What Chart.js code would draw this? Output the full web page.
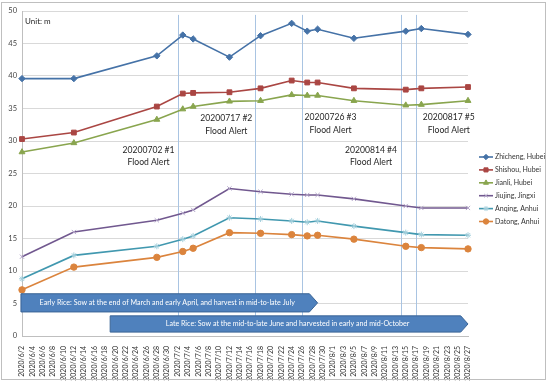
<!DOCTYPE html>
<html>
<head>
<meta charset="utf-8">
<script src="https://cdn.jsdelivr.net/npm/chart.js@4/dist/chart.umd.min.js"></script>
<style>
html, body { margin: 0; padding: 0; background: #fff; }
#wrap { width: 550px; height: 382px; }
</style>
</head>
<body>
<div id="wrap"><canvas id="c"></canvas></div>
<script>
// daily category labels 2020/6/2 .. 2020/8/27
const days = [];
for (let d = 2; d <= 30; d++) days.push('2020/6/' + d);
for (let d = 1; d <= 31; d++) days.push('2020/7/' + d);
for (let d = 1; d <= 27; d++) days.push('2020/8/' + d);

const sampleDates = ['2020/6/2', '2020/6/12', '2020/6/28', '2020/7/3', '2020/7/5', '2020/7/12', '2020/7/18',
    '2020/7/24', '2020/7/27', '2020/7/29', '2020/8/5', '2020/8/15', '2020/8/18', '2020/8/27'];

const zhicheng = [39.6, 39.6, 43.1, 46.3, 45.7, 42.9, 46.2, 48.1, 46.9, 47.2, 45.8, 46.9, 47.3, 46.4];
const shishou  = [30.3, 31.3, 35.3, 37.3, 37.4, 37.5, 38.1, 39.3, 39.0, 39.0, 38.1, 37.9, 38.1, 38.3];
const jianli   = [28.3, 29.7, 33.3, 34.9, 35.3, 36.1, 36.2, 37.1, 37.0, 37.0, 36.2, 35.5, 35.6, 36.2];
const jiujing  = [12.2, 16.0, 17.8, 18.9, 19.4, 22.7, 22.2, 21.8, 21.7, 21.7, 21.1, 20.0, 19.7, 19.7];
const anqing   = [8.8, 12.4, 13.8, 14.9, 15.4, 18.2, 18.0, 17.7, 17.5, 17.7, 16.9, 15.9, 15.6, 15.5];
const datong   = [7.1, 10.6, 12.1, 13.0, 13.5, 15.9, 15.8, 15.6, 15.4, 15.5, 14.9, 13.8, 13.6, 13.4];

const alertDates = ['2020/7/2', '2020/7/17', '2020/7/26', '2020/8/14', '2020/8/17'];
const alertNames = ['20200702 #1', '20200717 #2', '20200726 #3', '20200814 #4', '20200817 #5'];

const earlyRice = 'Early Rice: Sow at the end of March and early April, and harvest in mid-to-late July';
const lateRice = 'Late Rice: Sow at the mid-to-late June and harvested in early and mid-October';

const FONT = 'Lato, "Open Sans", sans-serif';

function series(label, values, color, style, radius, markColor) {
    return {
        label: label,
        data: sampleDates.map((d, i) => ({ x: d, y: values[i] })),
        borderColor: color,
        backgroundColor: color,
        borderWidth: 1.6,
        pointStyle: style,
        pointRadius: radius,
        pointBorderWidth: 1,
        pointBorderColor: markColor || color,
        tension: 0
    };
}

const overlay = {
    id: 'overlay',
    beforeDatasetsDraw(chart) {
        const { ctx, scales: { x, y } } = chart;
        ctx.save();
        ctx.strokeStyle = '#a9c4e2';
        ctx.lineWidth = 1;
        alertDates.forEach(d => {
            const px = Math.round(x.getPixelForValue(days.indexOf(d))) + 0.5;
            ctx.beginPath();
            ctx.moveTo(px, y.getPixelForValue(49.4));
            ctx.lineTo(px, y.getPixelForValue(3.1));
            ctx.stroke();
        });
        ctx.restore();
    },
    afterDraw(chart) {
        const { ctx, scales: { x, y } } = chart;
        ctx.save();

        // alert captions
        const spots = [[24.4, 28.6], [39.4, 33.5], [59.5, 33.6], [67.3, 28.6], [82.3, 33.6]];
        ctx.fillStyle = '#262626';
        ctx.font = '8.6px ' + FONT;
        ctx.textAlign = 'center';
        ctx.textBaseline = 'middle';
        spots.forEach((s, i) => {
            const px = x.getPixelForValue(s[0]);
            const py = y.getPixelForValue(s[1]);
            ctx.fillText(alertNames[i], px, py);
            ctx.fillText('Flood Alert', px, py + 12.5);
        });

        // rice season arrows
        function arrow(i0, i1, top, bottom, text, tx) {
            const x0 = x.getPixelForValue(i0);
            const x1 = x.getPixelForValue(i1);
            const y0 = y.getPixelForValue(top);
            const y1 = y.getPixelForValue(bottom);
            const h = y1 - y0;
            ctx.beginPath();
            ctx.moveTo(x0, y0);
            ctx.lineTo(x1 - h * 0.45, y0);
            ctx.lineTo(x1, y0 + h / 2);
            ctx.lineTo(x1 - h * 0.45, y1);
            ctx.lineTo(x0, y1);
            ctx.closePath();
            ctx.fillStyle = '#4f81bd';
            ctx.fill();
            ctx.strokeStyle = '#3a6496';
            ctx.lineWidth = 1;
            ctx.stroke();
            ctx.fillStyle = '#fff';
            ctx.font = '7.1px ' + FONT;
            ctx.fillText(text, x.getPixelForValue(tx), y0 + h / 2);
        }
        arrow(-0.2, 57, 6.5, 3.7, earlyRice, 28);
        arrow(17, 86, 3.1, 0.6, lateRice, 51.2);

        // unit
        ctx.fillStyle = '#262626';
        ctx.font = '8px ' + FONT;
        ctx.textAlign = 'left';
        ctx.fillText('Unit: m', x.left + 3, y.getPixelForValue(48.4));

        // legend
        chart.data.datasets.forEach((ds, i) => {
            const ly = 157 + i * 12.9;
            ctx.strokeStyle = ds.borderColor;
            ctx.lineWidth = 1.6;
            ctx.beginPath();
            ctx.moveTo(479, ly);
            ctx.lineTo(493, ly);
            ctx.stroke();
            ctx.fillStyle = ds.backgroundColor;
            ctx.strokeStyle = ds.pointBorderColor;
            ctx.lineWidth = 1;
            Chart.helpers.drawPoint(ctx, {
                pointStyle: ds.pointStyle, radius: ds.pointRadius - 0.5, borderWidth: 1
            }, 486, ly);
            ctx.fillStyle = '#333';
            ctx.font = '7px ' + FONT;
            ctx.fillText(ds.label, 495, ly);
        });

        // outer frame
        ctx.strokeStyle = '#bfbfbf';
        ctx.lineWidth = 1;
        ctx.strokeRect(1.5, 2.5, 544, 377);
        ctx.restore();
    }
};

new Chart(document.getElementById('c'), {
    type: 'line',
    data: {
        labels: days,
        datasets: [
            series('Zhicheng, Hubei', zhicheng, '#4572a7', 'rectRot', 3.2),
            series('Shishou, Hubei', shishou, '#aa4643', 'rect', 3.4),
            series('Jianli, Hubei', jianli, '#89a54e', 'triangle', 3.4),
            series('Jiujing, Jingxi', jiujing, '#71588f', 'crossRot', 3, '#b3a6c9'),
            series('Anqing, Anhui', anqing, '#4198af', 'star', 3, '#a3cfdc'),
            series('Datong, Anhui', datong, '#db843d', 'circle', 3.2)
        ]
    },
    options: {
        responsive: true,
        maintainAspectRatio: false,
        animation: false,
        layout: { padding: { top: 11, right: 82, left: 0, bottom: 0 } },
        plugins: { legend: { display: false }, tooltip: { enabled: false } },
        scales: {
            x: {
                type: 'category',
                offset: false,
                afterFit: s => { s.height = 46; },
                grid: { display: false },
                border: { color: '#bfbfbf' },
                ticks: {
                    autoSkip: false,
                    maxRotation: 90,
                    minRotation: 90,
                    padding: 2,
                    color: '#333',
                    font: { size: 7, family: FONT },
                    callback: function (v, i) { return i % 2 === 0 ? days[i] : ''; }
                }
            },
            y: {
                min: 0,
                max: 50,
                afterFit: s => { s.width = 22; },
                grid: { color: '#d9d9d9', drawTicks: false },
                border: { color: '#bfbfbf' },
                ticks: {
                    stepSize: 5,
                    padding: 5,
                    color: '#444',
                    font: { size: 7.5, family: FONT }
                }
            }
        }
    },
    plugins: [overlay]
});
</script>
</body>
</html>
